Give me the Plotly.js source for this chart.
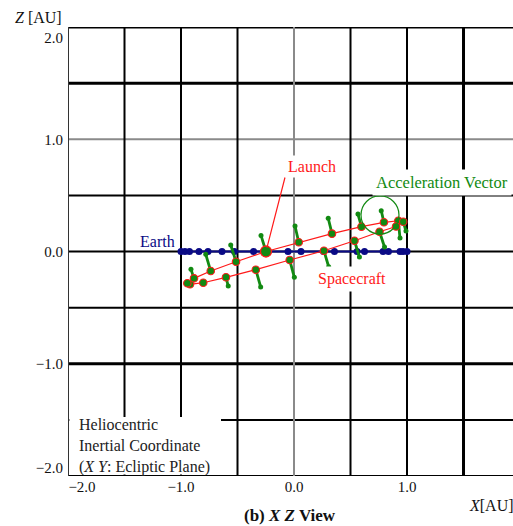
<!DOCTYPE html>
<html>
<head>
<meta charset="utf-8">
<script src="https://cdn.plot.ly/plotly-3.0.1.min.js"></script>
<style>
  html, body { margin: 0; padding: 0; background: #ffffff; }
  #chart { width: 513px; height: 526px; }
</style>
</head>
<body>
<div id="chart"></div>
<script>
// Earth X positions over one year [AU]; Earth stays on the ecliptic (Z = 0)
const earthX = [-1.000, -0.965, -0.925, -0.841, -0.761, -0.637, -0.527, -0.358, -0.248, -0.053,
                 0.062, 0.261, 0.358, 0.558, 0.624, 0.788, 0.836, 0.938, 0.965, 1.000];
const earthZ = earthX.map(() => 0);

// Spacecraft trajectory samples [AU], starting at launch
const craftX = [-0.248, 0.042, 0.336, 0.597, 0.796, 0.923, 0.967, 0.903, 0.757, 0.535,
                 0.265, -0.038, -0.338, -0.602, -0.803, -0.920, -0.944, -0.885, -0.737, -0.513];
const craftZ = [0.000, 0.082, 0.159, 0.221, 0.260, 0.274, 0.265, 0.223, 0.176, 0.096,
                0.007, -0.076, -0.162, -0.230, -0.278, -0.292, -0.283, -0.239, -0.174, -0.091];

// Acceleration vector at each sample (display scale) [AU]
const accelX = [-0.044, -0.033, -0.033, -0.031, -0.024, 0.015, 0.024, 0.000, 0.044, 0.044,
                 0.042, 0.041, 0.043, 0.020, 0.000, 0.000, 0.000, -0.027, -0.044, -0.047];
const accelZ = [0.143, 0.145, 0.137, 0.113, 0.103, -0.154, -0.083, 0.000, -0.136, -0.145,
               -0.143, -0.154, -0.154, -0.078, 0.000, 0.000, 0.000, 0.080, 0.149, 0.149];

// Axis tick labels
const xTickText = ['\u22122.0', '\u22121.0', '0.0', '1.0', '2.0'];
const zTickText = ['\u22122.0', '\u22121.0', '0.0', '1.0', '2.0'];

const SERIF = '"Liberation Serif", "Times New Roman", serif';
const RED = '#ff1a1a';
const GREEN = '#128a12';
const NAVY = '#0a0a85';

// Acceleration vectors: segments from each sample to its arrow tip
const vecX = [], vecZ = [], tipX = [], tipZ = [];
craftX.forEach((x, i) => {
  if (accelX[i] === 0 && accelZ[i] === 0) return;
  vecX.push(x, x + accelX[i], null);
  vecZ.push(craftZ[i], craftZ[i] + accelZ[i], null);
  tipX.push(x + accelX[i]);
  tipZ.push(craftZ[i] + accelZ[i]);
});

const traces = [
  { // Earth
    x: earthX, y: earthZ, type: 'scatter', mode: 'lines+markers',
    line: { color: NAVY, width: 2 },
    marker: { color: NAVY, size: 7 },
    hoverinfo: 'skip'
  },
  { // spacecraft path (closed loop back to launch)
    x: craftX.concat([craftX[0]]), y: craftZ.concat([craftZ[0]]),
    type: 'scatter', mode: 'lines',
    line: { color: RED, width: 1.2 },
    hoverinfo: 'skip'
  },
  { // acceleration vectors
    x: vecX, y: vecZ, type: 'scatter', mode: 'lines',
    line: { color: GREEN, width: 2.8 },
    hoverinfo: 'skip'
  },
  { // vector tips
    x: tipX, y: tipZ, type: 'scatter', mode: 'markers',
    marker: { color: GREEN, size: 5 },
    hoverinfo: 'skip'
  },
  { // spacecraft samples
    x: craftX, y: craftZ, type: 'scatter', mode: 'markers',
    marker: { color: GREEN, size: 7.5, line: { color: RED, width: 1.1 } },
    hoverinfo: 'skip'
  },
  { // launch point
    x: [craftX[0]], y: [craftZ[0]], type: 'scatter', mode: 'markers',
    marker: { color: GREEN, size: 11, line: { color: RED, width: 1.3 } },
    hoverinfo: 'skip'
  }
];

// Grid: heavier strokes on selected lines, the X = 0 and Z = 1 lines in grey
function hLine(z, w, c) {
  return { type: 'line', layer: 'below', xref: 'paper', x0: 0, x1: 1, yref: 'y', y0: z, y1: z,
           line: { color: c, width: w } };
}
function vLine(x, w, c) {
  return { type: 'line', layer: 'below', yref: 'paper', y0: 0, y1: 1, xref: 'x', x0: x, x1: x,
           line: { color: c, width: w } };
}
const shapes = [];
[2, 1.5, 1, 0.5, 0, -0.5, -1, -1.5, -2].forEach(z => {
  const heavy = (z === 2 || z === 1.5 || z === -1);
  shapes.push(hLine(z, heavy ? 3 : 2, z === 1 ? '#8a8a8a' : '#000000'));
});
[-2, -1.5, -1, -0.5, 0, 0.5, 1, 1.5].forEach(x => {
  shapes.push(vLine(x, x === 1.5 ? 3 : 2, x === 0 ? '#8a8a8a' : (x === -2 ? '#333333' : '#000000')));
});
// white panel behind the coordinate-system note
shapes.push({ type: 'rect', layer: 'below', xref: 'x', yref: 'y',
              x0: -1.988, x1: -0.646, y0: -1.987, y1: -1.474,
              fillcolor: '#ffffff', line: { width: 0 } });
// ring highlighting the acceleration vectors
shapes.push({ type: 'circle', layer: 'above', xref: 'x', yref: 'y',
              x0: 0.593, x1: 0.929, y0: 0.155, y1: 0.495,
              line: { color: GREEN, width: 1.2 } });

const annotations = [
  { text: '<i>Z</i> [AU]', xref: 'paper', yref: 'paper', x: -0.067, y: 1.022,
    xanchor: 'center', yanchor: 'middle', showarrow: false,
    font: { family: SERIF, size: 16, color: '#111111' } },
  { text: '<i>X</i>[AU]', xref: 'paper', yref: 'paper', x: 0.897, y: -0.0646,
    xanchor: 'left', yanchor: 'middle', showarrow: false,
    font: { family: SERIF, size: 16, color: '#111111' } },
  { text: '<b>(b) <i>X Z</i> View</b>', xref: 'paper', yref: 'paper', x: 0.499, y: -0.0869,
    xanchor: 'center', yanchor: 'middle', showarrow: false,
    font: { family: SERIF, size: 17, color: '#111111' } },
  { text: 'Heliocentric<br>Inertial Coordinate<br>(<i>X Y</i>: Ecliptic Plane)',
    xref: 'paper', yref: 'paper', x: 0.0202, y: 0.0668, xanchor: 'left', yanchor: 'middle',
    align: 'left', showarrow: false,
    font: { family: SERIF, size: 16, color: '#222222' } },
  { text: 'Earth', xref: 'x', yref: 'y', x: -1.204, y: 0.085, showarrow: false,
    font: { family: SERIF, size: 16, color: NAVY } },
  { text: 'Launch', xref: 'x', yref: 'y', x: craftX[0], y: craftZ[0],
    showarrow: true, arrowhead: 0, arrowwidth: 1.2, arrowcolor: RED, standoff: 4,
    ax: 19, ay: -74, xanchor: 'left', yanchor: 'bottom',
    bgcolor: '#ffffff', borderpad: 2,
    font: { family: SERIF, size: 16, color: RED } },
  { text: 'Spacecraft', xref: 'x', yref: 'y', x: 0.513, y: -0.245, showarrow: false,
    bgcolor: '#ffffff', borderpad: 3,
    font: { family: SERIF, size: 16, color: RED } },
  { text: 'Acceleration Vector', xref: 'x', yref: 'y', x: 1.31, y: 0.619, showarrow: false,
    bgcolor: '#ffffff', borderpad: 3,
    font: { family: SERIF, size: 16.5, color: GREEN } }
];

const layout = {
  width: 513, height: 526,
  margin: { l: 68, r: 0, t: 27, b: 50, pad: 0 },
  paper_bgcolor: '#ffffff', plot_bgcolor: '#ffffff',
  showlegend: false,
  xaxis: {
    range: [-2, 1.938], showgrid: false, zeroline: false, showline: false,
    tickmode: 'array', tickvals: [-1.876, -1, 0, 1, 1.91], ticktext: xTickText,
    ticks: '', automargin: false,
    tickfont: { family: SERIF, size: 15, color: '#111111' }
  },
  yaxis: {
    range: [-2, 2], showgrid: false, zeroline: false, showline: false,
    tickmode: 'array', tickvals: [-1.924, -1, 0, 1, 1.906], ticktext: zTickText,
    ticks: '', automargin: false, ticklabelstandoff: 4,
    tickfont: { family: SERIF, size: 15, color: '#111111' }
  },
  shapes: shapes,
  annotations: annotations
};

Plotly.newPlot('chart', traces, layout, { displayModeBar: false, staticPlot: true });
</script>
</body>
</html>
